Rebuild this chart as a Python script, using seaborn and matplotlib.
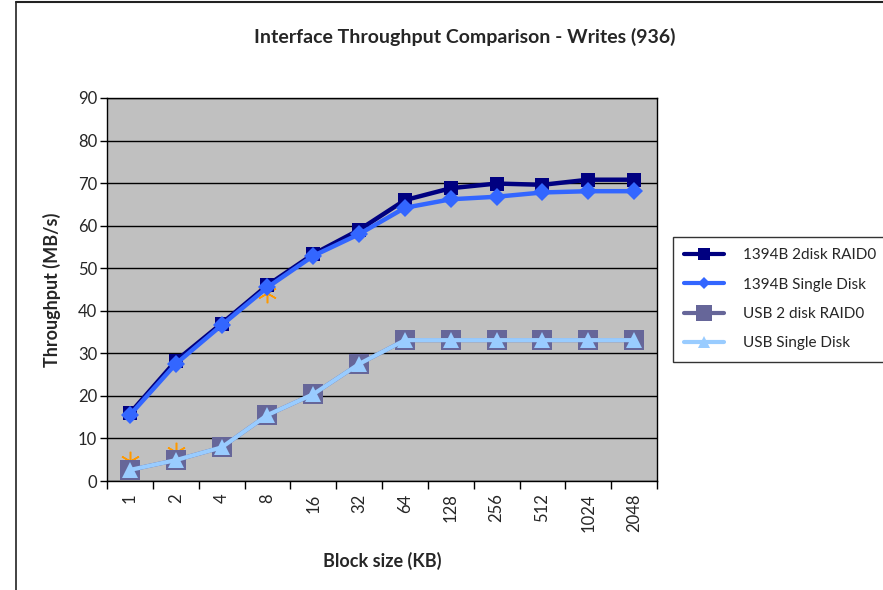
import matplotlib
matplotlib.use("Agg")
import matplotlib.pyplot as plt
import seaborn as sns
import numpy as np
import pandas as pd
from matplotlib.lines import Line2D

block_sizes = ["1", "2", "4", "8", "16", "32", "64", "128", "256", "512", "1024", "2048"]
raid0_1394b = [15.9, 28.2, 37.0, 46.0, 53.3, 59.0, 66.0, 68.8, 69.9, 69.6, 70.8, 70.8]
single_1394b = [15.5, 27.5, 36.6, 45.5, 52.9, 58.0, 64.2, 66.2, 66.8, 67.8, 68.1, 68.1]
raid0_usb = [2.6, 4.9, 7.9, 15.5, 20.4, 27.5, 33.1, 33.1, 33.1, 33.1, 33.1, 33.1]
single_usb = [2.6, 4.9, 7.9, 15.5, 20.4, 27.5, 33.1, 33.1, 33.1, 33.1, 33.1, 33.1]
hidden_series = [4.6, 6.8, np.nan, 44.2, np.nan, np.nan, np.nan, np.nan, np.nan, np.nan, np.nan, np.nan]

sns.set_theme(style="white")
plt.rcParams["font.family"] = ["Lato", "DejaVu Sans"]

W, H = 883, 590
fig = plt.figure(figsize=(W / 100, H / 100), dpi=100)
ax = fig.add_axes([107 / W, 1 - 481 / H, (657 - 107) / W, (481 - 98) / H])
ax.set_facecolor("#C0C0C0")

x = np.arange(len(block_sizes))

# hidden orange asterisk series (drawn beneath)
sns.lineplot(x=x, y=hidden_series, ax=ax, color="#FF9900", marker=(6, 2, 0),
             markersize=14, markeredgewidth=1.1, markeredgecolor="#FF9900",
             markerfacecolor="#FF9900", linestyle="none", zorder=2)

sns.lineplot(x=x, y=raid0_1394b, ax=ax, color="#000080", linewidth=3.2,
             marker="s", markersize=10, markeredgewidth=0, zorder=3)
sns.lineplot(x=x, y=single_1394b, ax=ax, color="#3366FF", linewidth=3.2,
             marker="D", markersize=9, markeredgewidth=0, zorder=4)
sns.lineplot(x=x, y=raid0_usb, ax=ax, color="#666699", linewidth=3.0,
             marker="s", markersize=14, markeredgewidth=0, zorder=5)
sns.lineplot(x=x, y=single_usb, ax=ax, color="#99CCFF", linewidth=3.0,
             marker="^", markersize=11, markeredgewidth=0, zorder=6)

ax.set_xlim(-0.5, len(block_sizes) - 0.5)
ax.set_ylim(0, 90)
ax.set_yticks(np.arange(0, 91, 10))
ax.yaxis.grid(True, color="black", linewidth=1.0)
ax.xaxis.grid(False)
ax.set_axisbelow(True)
for s in ax.spines.values():
    s.set_color("black")
    s.set_linewidth(1.0)

ax.set_xticks(x)
ax.set_xticklabels(block_sizes, rotation=90, va="top", ha="center", fontsize=12)
ax.set_xticks(np.arange(-0.5, len(block_sizes), 1.0), minor=True)
ax.tick_params(axis="x", which="major", length=0, pad=9)
ax.tick_params(axis="x", which="minor", length=6, width=1, color="black", direction="out")
ax.tick_params(axis="y", length=5, width=1, color="black", direction="out", labelsize=12, pad=2)
ax.tick_params(bottom=True, left=True, which="both")

ax.set_xlabel("Block size (KB)", fontsize=13, fontweight="bold", labelpad=14)
ax.set_ylabel("Throughput (MB/s)", fontsize=13, fontweight="bold", labelpad=12)

fig.text(465 / W, 1 - 37 / H, "Interface Throughput Comparison - Writes (936)",
         ha="center", va="center", fontsize=14, fontweight="bold")

handles = [
    Line2D([], [], color="#000080", lw=3, marker="s", markersize=8, markeredgewidth=0),
    Line2D([], [], color="#3366FF", lw=3, marker="D", markersize=6, markeredgewidth=0),
    Line2D([], [], color="#666699", lw=3, marker="s", markersize=12, markeredgewidth=0),
    Line2D([], [], color="#99CCFF", lw=3, marker="^", markersize=9, markeredgewidth=0),
]
labels = ["1394B 2disk RAID0", "1394B Single Disk", "USB 2 disk RAID0", "USB Single Disk"]
leg = fig.legend(handles, labels, loc="upper left", bbox_to_anchor=(673 / W, 1 - 237 / H),
                 frameon=True, fancybox=False, edgecolor="black", fontsize=11,
                 handlelength=2.6, handletextpad=1.2, labelspacing=1.0,
                 borderpad=0.75, borderaxespad=0)
leg.get_frame().set_linewidth(1.0)

# chart-area border
fig.add_artist(Line2D([15.5 / W, 15.5 / W], [0, 1 - 1.5 / H], color="#222222", lw=1.2))
fig.add_artist(Line2D([15.5 / W, 1], [1 - 1.5 / H, 1 - 1.5 / H], color="#222222", lw=1.5))

fig.savefig("out.png", dpi=100)
